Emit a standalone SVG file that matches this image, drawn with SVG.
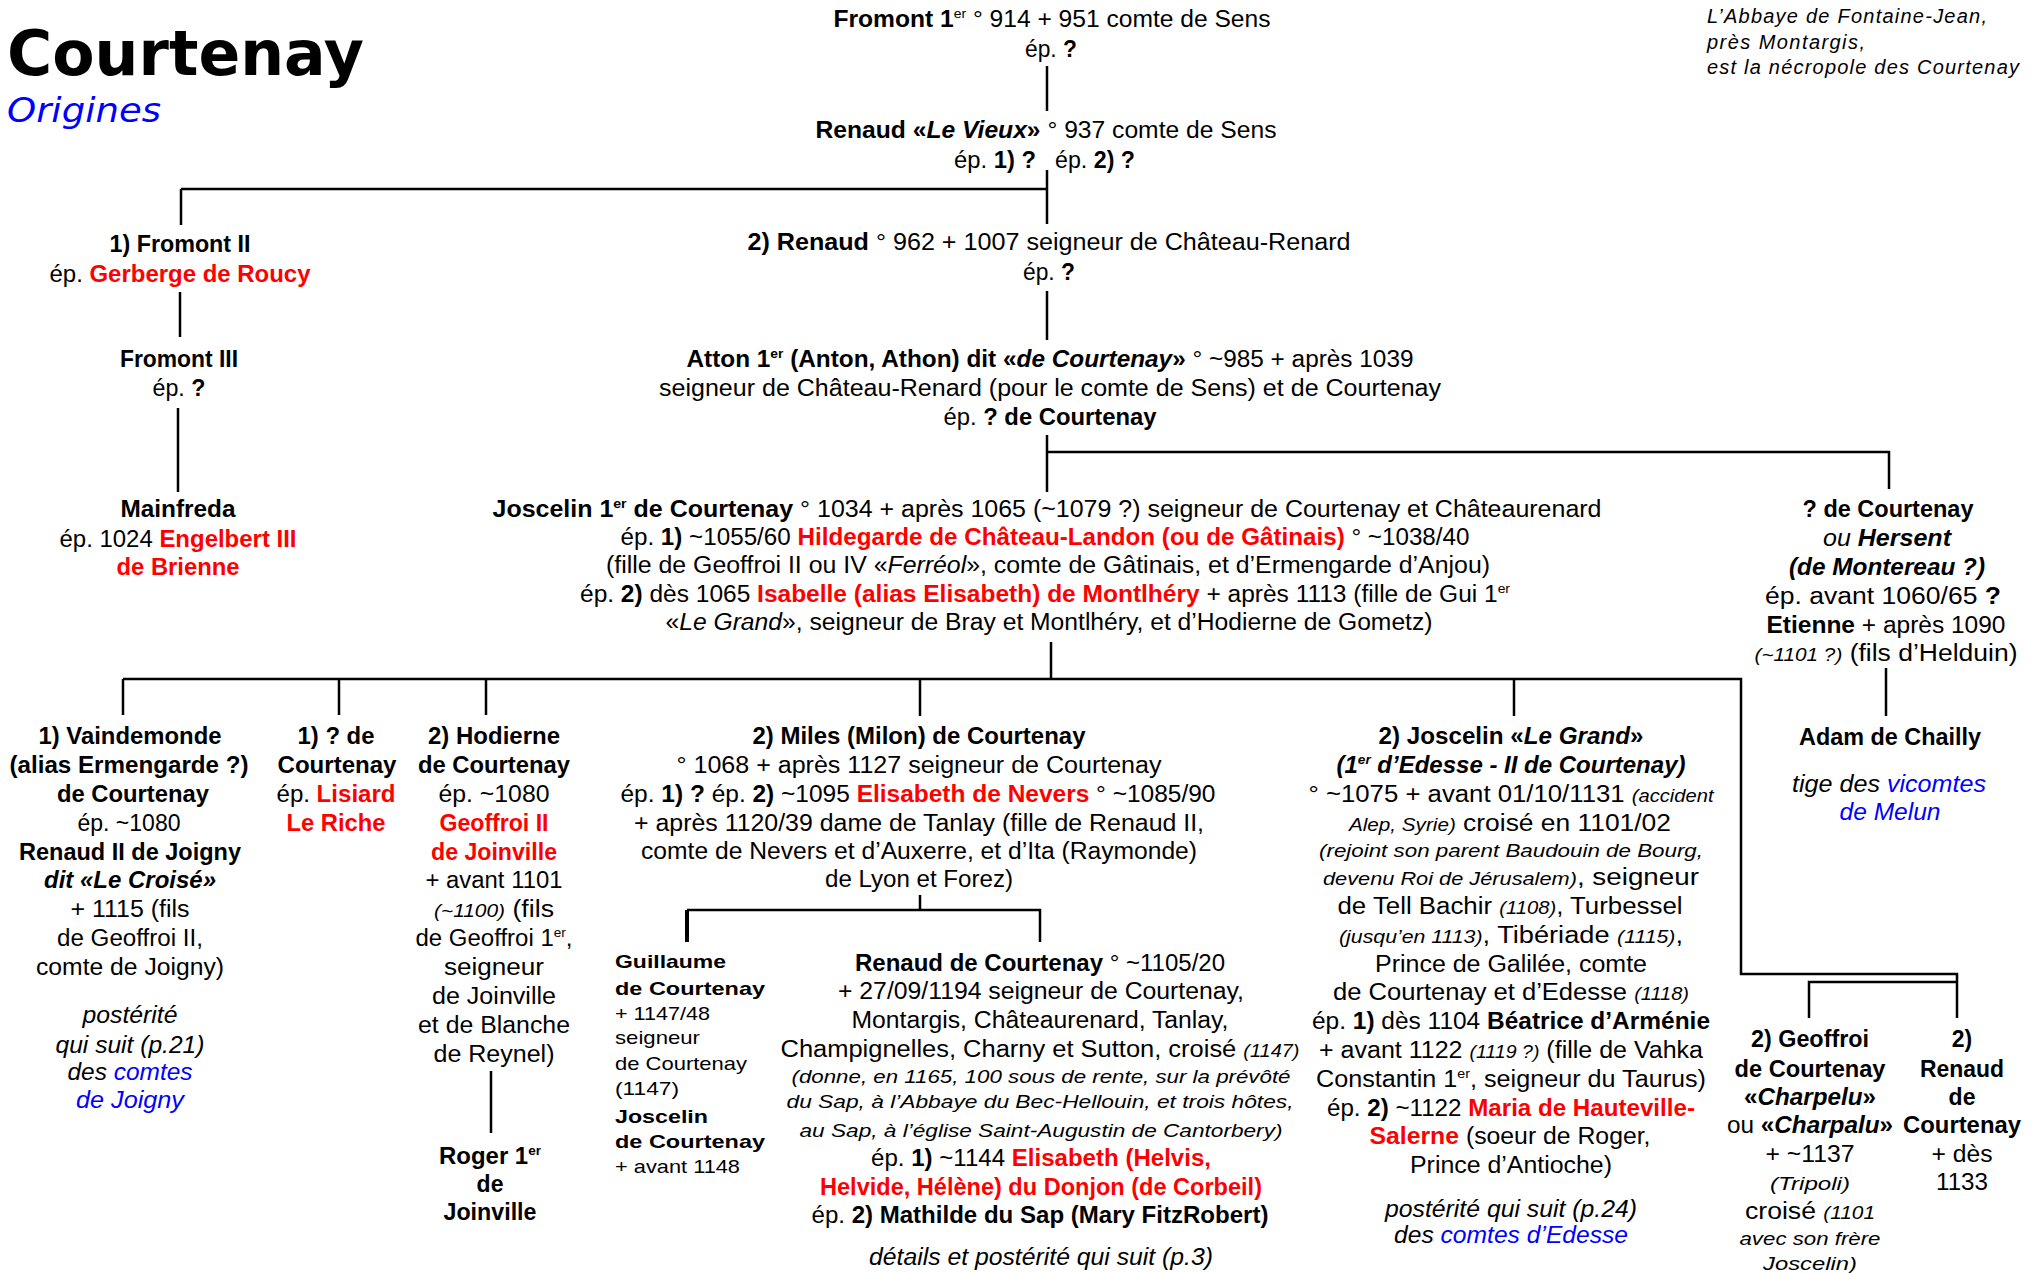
<svg xmlns="http://www.w3.org/2000/svg" width="2037" height="1273" viewBox="0 0 2037 1273" xml:space="preserve">
<style>
.t{font-family:"Liberation Sans",Arial,sans-serif;font-size:23px;text-anchor:middle;fill:#000}
.l{text-anchor:start}
.b{font-weight:bold}
.i{font-style:italic}
.r{fill:#f00;font-weight:bold}
.u{fill:#00f}
.s{font-size:18px}
.g{font-size:19px}
.sup{font-size:13px}
.c{stroke:#000;stroke-width:2.5;fill:none}
</style>
<rect width="2037" height="1273" fill="#fff"/>
<g id="title">
<text x="7" y="75" font-family="DejaVu Sans,Verdana,sans-serif" font-weight="bold" font-size="62" textLength="357" lengthAdjust="spacingAndGlyphs">Courtenay</text>
<text x="7" y="122" font-family="DejaVu Sans,Verdana,sans-serif" font-style="italic" font-size="34" fill="#00f" textLength="154" lengthAdjust="spacingAndGlyphs">Origines</text>
</g>
<g id="note">
<text class="t i l" style="font-size:20px" x="1707" y="23" textLength="280" lengthAdjust="spacing">L’Abbaye de Fontaine-Jean,</text>
<text class="t i l" style="font-size:20px" x="1707" y="49" textLength="158" lengthAdjust="spacing">près Montargis,</text>
<text class="t i l" style="font-size:20px" x="1707" y="74" textLength="312" lengthAdjust="spacing">est la nécropole des Courtenay</text>
</g>
<g id="connectors">
<path class="c" d="M1047 66V111M1047 170V224M181 189H1047M181 189V225M180 292V337M178 408V492M1047 291V340M1047 435V492M1047 452H1889V489M1886 668V716M1051 642V679M123 679H1741V974H1957V1018M1809 1018V982H1957M123 679V715M339 679V715M486 679V715M920 679V716M1514 679V716M491 1071V1133M920 895V910M687 910H1040V942"/>
<path d="M687 910V942" stroke="#000" stroke-width="4"/>
</g>
<g id="fromont1">
<text class="t" x="1052" y="27" textLength="437" lengthAdjust="spacingAndGlyphs"><tspan class="b">Fromont 1</tspan><tspan class="sup" dy="-9">er</tspan><tspan dy="9"> ° 914 + 951 comte de Sens</tspan></text>
<text class="t" x="1051" y="57" textLength="52" lengthAdjust="spacingAndGlyphs">ép. <tspan class="b">?</tspan></text>
</g>
<g id="renaud-vieux">
<text class="t" x="1046" y="138" textLength="461" lengthAdjust="spacingAndGlyphs"><tspan class="b">Renaud «<tspan class="i">Le Vieux</tspan>»</tspan> ° 937 comte de Sens</text>
<text class="t" style="text-anchor:end" x="1036" y="168" textLength="82" lengthAdjust="spacingAndGlyphs">ép. <tspan class="b">1) ?</tspan></text>
<text class="t l" x="1055" y="168" textLength="80" lengthAdjust="spacingAndGlyphs">ép. <tspan class="b">2) ?</tspan></text>
</g>
<g id="fromont2">
<text class="t" x="180" y="252" textLength="141" lengthAdjust="spacingAndGlyphs"><tspan class="b">1) Fromont II</tspan></text>
<text class="t" x="180" y="282" textLength="261" lengthAdjust="spacingAndGlyphs">ép. <tspan class="r">Gerberge de Roucy</tspan></text>
</g>
<g id="fromont3">
<text class="t b" x="179" y="367" textLength="118" lengthAdjust="spacingAndGlyphs">Fromont III</text>
<text class="t" x="179" y="396" textLength="53" lengthAdjust="spacingAndGlyphs">ép. <tspan class="b">?</tspan></text>
</g>
<g id="mainfreda">
<text class="t b" x="178" y="517" textLength="115" lengthAdjust="spacingAndGlyphs">Mainfreda</text>
<text class="t" x="178" y="547" textLength="237" lengthAdjust="spacingAndGlyphs">ép. 1024 <tspan class="r">Engelbert III</tspan></text>
<text class="t r" x="178" y="575" textLength="123" lengthAdjust="spacingAndGlyphs">de Brienne</text>
</g>
<g id="renaud2">
<text class="t" x="1049" y="250" textLength="603" lengthAdjust="spacingAndGlyphs"><tspan class="b">2) Renaud </tspan> ° 962 + 1007 seigneur de Château-Renard</text>
<text class="t" x="1049" y="280" textLength="52" lengthAdjust="spacingAndGlyphs">ép. <tspan class="b">?</tspan></text>
</g>
<g id="atton">
<text class="t" x="1050" y="367" textLength="727" lengthAdjust="spacingAndGlyphs"><tspan class="b">Atton 1</tspan><tspan class="sup b" dy="-9">er</tspan><tspan class="b" dy="9"> (Anton, Athon) dit «<tspan class="i">de Courtenay</tspan>»</tspan> ° ~985 + après 1039</text>
<text class="t" x="1050" y="396" textLength="782" lengthAdjust="spacingAndGlyphs">seigneur de Château-Renard (pour le comte de Sens) et de Courtenay</text>
<text class="t" x="1050" y="425" textLength="213" lengthAdjust="spacingAndGlyphs">ép. <tspan class="b">? de Courtenay</tspan></text>
</g>
<g id="joscelin1">
<text class="t" x="1047" y="517" textLength="1109" lengthAdjust="spacingAndGlyphs"><tspan class="b">Joscelin 1</tspan><tspan class="sup b" dy="-9">er</tspan><tspan class="b" dy="9">  de Courtenay</tspan>  ° 1034 + après 1065 (~1079 ?) seigneur de Courtenay et Châteaurenard</text>
<text class="t" x="1045" y="545" textLength="849" lengthAdjust="spacingAndGlyphs">ép. <tspan class="b">1)</tspan> ~1055/60 <tspan class="r">Hildegarde de Château-Landon (ou de Gâtinais)</tspan> ° ~1038/40</text>
<text class="t" x="1048" y="573" textLength="884" lengthAdjust="spacingAndGlyphs">(fille de Geoffroi II ou IV «<tspan class="i">Ferréol</tspan>», comte de Gâtinais, et d’Ermengarde d’Anjou)</text>
<text class="t" x="1045" y="602" textLength="930" lengthAdjust="spacingAndGlyphs">ép. <tspan class="b">2)</tspan> dès 1065 <tspan class="r">Isabelle (alias Elisabeth) de Montlhéry</tspan> + après 1113 (fille de Gui 1<tspan class="sup" dy="-9">er</tspan></text>
<text class="t" x="1049" y="630" textLength="767" lengthAdjust="spacingAndGlyphs">«<tspan class="i">Le Grand</tspan>», seigneur de Bray et Montlhéry, et d’Hodierne de Gometz)</text>
</g>
<g id="hersent">
<text class="t b" x="1888" y="517" textLength="171" lengthAdjust="spacingAndGlyphs">? de Courtenay</text>
<text class="t i" x="1887" y="546" textLength="128" lengthAdjust="spacingAndGlyphs">ou <tspan class="b">Hersent</tspan></text>
<text class="t b i" x="1887" y="575" textLength="196" lengthAdjust="spacingAndGlyphs">(de Montereau ?)</text>
<text class="t" x="1883" y="604" textLength="236" lengthAdjust="spacingAndGlyphs">ép. avant 1060/65  <tspan class="b">?</tspan></text>
<text class="t" x="1886" y="633" textLength="239" lengthAdjust="spacingAndGlyphs"><tspan class="b">Etienne</tspan> + après 1090</text>
<text class="t" x="1886" y="661" textLength="263" lengthAdjust="spacingAndGlyphs"><tspan class="i s">(~1101 ?)</tspan> (fils d’Helduin)</text>
</g>
<g id="adam">
<text class="t b" x="1890" y="745" textLength="182" lengthAdjust="spacingAndGlyphs">Adam de Chailly</text>
<text class="t i" x="1889" y="792" textLength="194" lengthAdjust="spacingAndGlyphs">tige des <tspan class="u">vicomtes</tspan></text>
<text class="t i u" x="1890" y="820" textLength="101" lengthAdjust="spacingAndGlyphs">de Melun</text>
</g>
<g id="vaindemonde">
<text class="t b" x="130" y="744" textLength="183" lengthAdjust="spacingAndGlyphs">1) Vaindemonde</text>
<text class="t b" x="129" y="773" textLength="239" lengthAdjust="spacingAndGlyphs">(alias Ermengarde ?)</text>
<text class="t b" x="133" y="802" textLength="152" lengthAdjust="spacingAndGlyphs">de Courtenay</text>
<text class="t" x="129" y="831" textLength="103" lengthAdjust="spacingAndGlyphs">ép.  ~1080</text>
<text class="t b" x="130" y="860" textLength="222" lengthAdjust="spacingAndGlyphs">Renaud II de Joigny</text>
<text class="t b i" x="130" y="888" textLength="172" lengthAdjust="spacingAndGlyphs">dit «Le Croisé»</text>
<text class="t" x="130" y="917" textLength="119" lengthAdjust="spacingAndGlyphs">+ 1115 (fils</text>
<text class="t" x="130" y="946" textLength="146" lengthAdjust="spacingAndGlyphs">de Geoffroi II,</text>
<text class="t" x="130" y="975" textLength="188" lengthAdjust="spacingAndGlyphs">comte de Joigny)</text>
<text class="t i" x="130" y="1023" textLength="95" lengthAdjust="spacingAndGlyphs">postérité</text>
<text class="t i" x="130" y="1053" textLength="149" lengthAdjust="spacingAndGlyphs">qui suit (p.21)</text>
<text class="t i" x="130" y="1080" textLength="125" lengthAdjust="spacingAndGlyphs">des <tspan class="u">comtes</tspan></text>
<text class="t i u" x="130" y="1108" textLength="108" lengthAdjust="spacingAndGlyphs">de Joigny</text>
</g>
<g id="lisiard">
<text class="t b" x="336" y="744" textLength="77" lengthAdjust="spacingAndGlyphs">1) ? de</text>
<text class="t b" x="337" y="773" textLength="119" lengthAdjust="spacingAndGlyphs">Courtenay</text>
<text class="t" x="336" y="802" textLength="119" lengthAdjust="spacingAndGlyphs">ép. <tspan class="r">Lisiard</tspan></text>
<text class="t r" x="336" y="831" textLength="99" lengthAdjust="spacingAndGlyphs">Le Riche</text>
</g>
<g id="hodierne">
<text class="t b" x="494" y="744" textLength="132" lengthAdjust="spacingAndGlyphs">2) Hodierne</text>
<text class="t b" x="494" y="773" textLength="152" lengthAdjust="spacingAndGlyphs">de Courtenay</text>
<text class="t" x="494" y="802" textLength="111" lengthAdjust="spacingAndGlyphs">ép.  ~1080</text>
<text class="t r" x="494" y="831" textLength="109" lengthAdjust="spacingAndGlyphs">Geoffroi II</text>
<text class="t r" x="494" y="860" textLength="126" lengthAdjust="spacingAndGlyphs">de Joinville</text>
<text class="t" x="494" y="888" textLength="137" lengthAdjust="spacingAndGlyphs">+ avant 1101</text>
<text class="t" x="494" y="917" textLength="120" lengthAdjust="spacingAndGlyphs"><tspan class="i s">(~1100)</tspan>  (fils</text>
<text class="t" x="494" y="946" textLength="157" lengthAdjust="spacingAndGlyphs">de Geoffroi 1<tspan class="sup" dy="-9">er</tspan><tspan dy="9">,</tspan></text>
<text class="t" x="494" y="975" textLength="100" lengthAdjust="spacingAndGlyphs">seigneur</text>
<text class="t" x="494" y="1004" textLength="124" lengthAdjust="spacingAndGlyphs">de Joinville</text>
<text class="t" x="494" y="1033" textLength="152" lengthAdjust="spacingAndGlyphs">et de Blanche</text>
<text class="t" x="494" y="1062" textLength="121" lengthAdjust="spacingAndGlyphs">de Reynel)</text>
</g>
<g id="roger">
<text class="t b" x="490" y="1164" textLength="102" lengthAdjust="spacingAndGlyphs">Roger 1<tspan class="sup" dy="-9">er</tspan></text>
<text class="t b" x="490" y="1192">de</text>
<text class="t b" x="490" y="1220" textLength="93" lengthAdjust="spacingAndGlyphs">Joinville</text>
</g>
<g id="miles">
<text class="t b" x="919" y="744" textLength="333" lengthAdjust="spacingAndGlyphs">2) Miles (Milon) de Courtenay</text>
<text class="t" x="919" y="773" textLength="485" lengthAdjust="spacingAndGlyphs">° 1068 + après 1127 seigneur de Courtenay</text>
<text class="t" x="918" y="802" textLength="595" lengthAdjust="spacingAndGlyphs">ép. <tspan class="b">1) ?</tspan>  ép. <tspan class="b">2)</tspan> ~1095 <tspan class="r">Elisabeth de Nevers</tspan> ° ~1085/90</text>
<text class="t" x="919" y="831" textLength="570" lengthAdjust="spacingAndGlyphs">+ après 1120/39 dame de Tanlay (fille de Renaud II,</text>
<text class="t" x="919" y="859" textLength="556" lengthAdjust="spacingAndGlyphs">comte de Nevers et d’Auxerre, et d’Ita (Raymonde)</text>
<text class="t" x="919" y="887" textLength="188" lengthAdjust="spacingAndGlyphs">de Lyon et Forez)</text>
</g>
<g id="guillaume">
<text class="t l b g" x="615" y="968" textLength="111" lengthAdjust="spacingAndGlyphs">Guillaume</text>
<text class="t l b g" x="615" y="995" textLength="150" lengthAdjust="spacingAndGlyphs">de  Courtenay</text>
<text class="t l g" x="615" y="1020" textLength="95" lengthAdjust="spacingAndGlyphs">+ 1147/48</text>
<text class="t l g" x="615" y="1044" textLength="85" lengthAdjust="spacingAndGlyphs">seigneur</text>
<text class="t l g" x="615" y="1070" textLength="132" lengthAdjust="spacingAndGlyphs">de Courtenay</text>
<text class="t l g" x="615" y="1095" textLength="64" lengthAdjust="spacingAndGlyphs">(1147)</text>
<text class="t l b g" x="615" y="1123" textLength="93" lengthAdjust="spacingAndGlyphs">Joscelin</text>
<text class="t l b g" x="615" y="1148" textLength="150" lengthAdjust="spacingAndGlyphs">de  Courtenay</text>
<text class="t l g" x="615" y="1173" textLength="125" lengthAdjust="spacingAndGlyphs">+ avant 1148</text>
</g>
<g id="renaud-courtenay">
<text class="t" x="1040" y="971" textLength="370" lengthAdjust="spacingAndGlyphs"><tspan class="b">Renaud de Courtenay</tspan> ° ~1105/20</text>
<text class="t" x="1041" y="999" textLength="406" lengthAdjust="spacingAndGlyphs">+ 27/09/1194 seigneur de Courtenay,</text>
<text class="t" x="1040" y="1028" textLength="377" lengthAdjust="spacingAndGlyphs">Montargis, Châteaurenard, Tanlay,</text>
<text class="t" x="1040" y="1057" textLength="519" lengthAdjust="spacingAndGlyphs">Champignelles, Charny et Sutton, croisé <tspan class="i s">(1147)</tspan></text>
<text class="t i s" x="1041" y="1083" textLength="499" lengthAdjust="spacingAndGlyphs">(donne, en 1165, 100 sous de rente, sur la prévôté</text>
<text class="t i s" x="1040" y="1108" textLength="507" lengthAdjust="spacingAndGlyphs">du Sap, à l’Abbaye du Bec-Hellouin, et trois hôtes,</text>
<text class="t i s" x="1041" y="1137" textLength="483" lengthAdjust="spacingAndGlyphs">au Sap, à l’église Saint-Augustin de Cantorbery)</text>
<text class="t" x="1041" y="1166" textLength="340" lengthAdjust="spacingAndGlyphs">ép. <tspan class="b">1)</tspan> ~1144 <tspan class="r">Elisabeth (Helvis,</tspan></text>
<text class="t r" x="1041" y="1195" textLength="442" lengthAdjust="spacingAndGlyphs">Helvide, Hélène) du Donjon (de Corbeil)</text>
<text class="t" x="1040" y="1223" textLength="457" lengthAdjust="spacingAndGlyphs">ép. <tspan class="b">2)  Mathilde du Sap (Mary FitzRobert)</tspan></text>
<text class="t i" x="1041" y="1265" textLength="344" lengthAdjust="spacingAndGlyphs">détails et postérité qui suit (p.3)</text>
</g>
<g id="joscelin-grand">
<text class="t b" x="1511" y="744" textLength="265" lengthAdjust="spacingAndGlyphs">2) Joscelin «<tspan class="i">Le Grand</tspan>»</text>
<text class="t b i" x="1511" y="773" textLength="349" lengthAdjust="spacingAndGlyphs">(1<tspan class="sup" dy="-9">er</tspan><tspan dy="9"> d’Edesse - II de Courtenay)</tspan></text>
<text class="t" x="1511" y="802" textLength="405" lengthAdjust="spacingAndGlyphs">° ~1075 + avant 01/10/1131 <tspan class="i s">(accident</tspan></text>
<text class="t" x="1510" y="831" textLength="322" lengthAdjust="spacingAndGlyphs"><tspan class="i s">Alep, Syrie)</tspan> croisé en 1101/02</text>
<text class="t i s" x="1511" y="857" textLength="384" lengthAdjust="spacingAndGlyphs">(rejoint son parent Baudouin de Bourg,</text>
<text class="t" x="1511" y="885" textLength="376" lengthAdjust="spacingAndGlyphs"><tspan class="i s">devenu Roi de Jérusalem)</tspan>, seigneur</text>
<text class="t" x="1510" y="914" textLength="345" lengthAdjust="spacingAndGlyphs">de Tell Bachir <tspan class="i s">(1108)</tspan>, Turbessel</text>
<text class="t" x="1511" y="943" textLength="344" lengthAdjust="spacingAndGlyphs"><tspan class="i s">(jusqu’en 1113)</tspan>, Tibériade <tspan class="i s">(1115)</tspan>,</text>
<text class="t" x="1511" y="972" textLength="272" lengthAdjust="spacingAndGlyphs">Prince de Galilée, comte</text>
<text class="t" x="1511" y="1000" textLength="356" lengthAdjust="spacingAndGlyphs">de Courtenay et d’Edesse <tspan class="i s">(1118)</tspan></text>
<text class="t" x="1511" y="1029" textLength="398" lengthAdjust="spacingAndGlyphs">ép. <tspan class="b">1)</tspan> dès 1104 <tspan class="b">Béatrice d’Arménie</tspan></text>
<text class="t" x="1511" y="1058" textLength="384" lengthAdjust="spacingAndGlyphs">+ avant 1122 <tspan class="i s">(1119 ?)</tspan> (fille de Vahka</text>
<text class="t" x="1511" y="1087" textLength="390" lengthAdjust="spacingAndGlyphs">Constantin 1<tspan class="sup" dy="-9">er</tspan><tspan dy="9">, seigneur du Taurus)</tspan></text>
<text class="t" x="1511" y="1116" textLength="368" lengthAdjust="spacingAndGlyphs">ép. <tspan class="b">2)</tspan> ~1122 <tspan class="r">Maria de Hauteville-</tspan></text>
<text class="t" x="1510" y="1144" textLength="281" lengthAdjust="spacingAndGlyphs"><tspan class="r">Salerne</tspan> (soeur de Roger,</text>
<text class="t" x="1511" y="1173" textLength="202" lengthAdjust="spacingAndGlyphs">Prince d’Antioche)</text>
<text class="t i" x="1511" y="1217" textLength="252" lengthAdjust="spacingAndGlyphs">postérité qui suit (p.24)</text>
<text class="t i" x="1511" y="1243" textLength="234" lengthAdjust="spacingAndGlyphs">des <tspan class="u">comtes d’Edesse</tspan></text>
</g>
<g id="geoffroi">
<text class="t b" x="1810" y="1047" textLength="118" lengthAdjust="spacingAndGlyphs">2) Geoffroi</text>
<text class="t b" x="1810" y="1077" textLength="151" lengthAdjust="spacingAndGlyphs">de Courtenay</text>
<text class="t b" x="1810" y="1105" textLength="132" lengthAdjust="spacingAndGlyphs">«<tspan class="i">Charpelu</tspan>»</text>
<text class="t" x="1810" y="1133" textLength="166" lengthAdjust="spacingAndGlyphs">ou <tspan class="b">«<tspan class="i">Charpalu</tspan>»</tspan></text>
<text class="t" x="1810" y="1162" textLength="89" lengthAdjust="spacingAndGlyphs">+ ~1137</text>
<text class="t i s" x="1810" y="1190" textLength="80" lengthAdjust="spacingAndGlyphs">(Tripoli)</text>
<text class="t" x="1810" y="1219" textLength="130" lengthAdjust="spacingAndGlyphs">croisé  <tspan class="i s">(1101</tspan></text>
<text class="t i s" x="1810" y="1245" textLength="141" lengthAdjust="spacingAndGlyphs">avec son frère</text>
<text class="t i s" x="1810" y="1270" textLength="94" lengthAdjust="spacingAndGlyphs">Joscelin)</text>
</g>
<g id="renaud-2">
<text class="t b" x="1962" y="1047">2)</text>
<text class="t b" x="1962" y="1077" textLength="84" lengthAdjust="spacingAndGlyphs">Renaud</text>
<text class="t b" x="1962" y="1105">de</text>
<text class="t b" x="1962" y="1133" textLength="118" lengthAdjust="spacingAndGlyphs">Courtenay</text>
<text class="t" x="1962" y="1162" textLength="61" lengthAdjust="spacingAndGlyphs">+ dès</text>
<text class="t" x="1962" y="1190" textLength="52" lengthAdjust="spacingAndGlyphs">1133</text>
</g>
</svg>
